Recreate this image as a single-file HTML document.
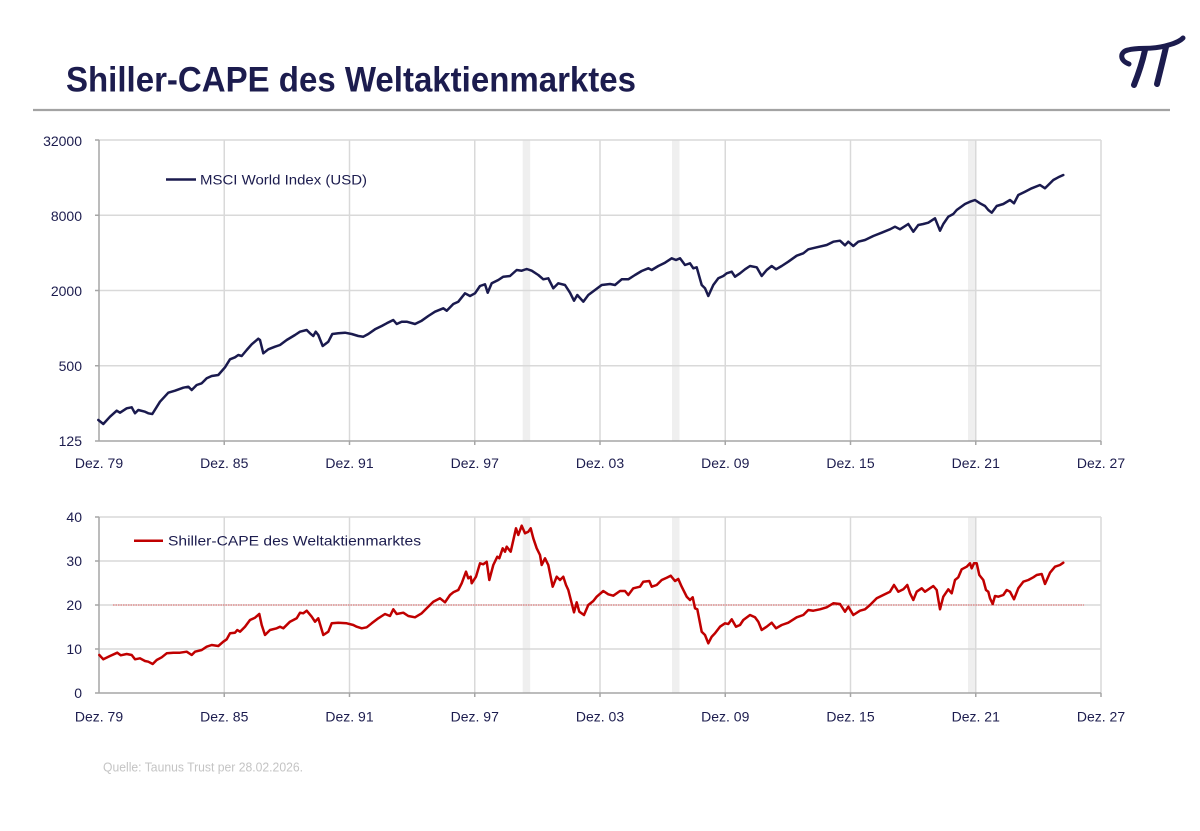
<!DOCTYPE html>
<html>
<head>
<meta charset="utf-8">
<style>
  html, body { margin:0; padding:0; background:#ffffff; }
  svg { display:block; }
  text { font-family: "Liberation Sans", sans-serif; fill:#1c1c4e; }
</style>
</head>
<body>
<svg width="1200" height="831" viewBox="0 0 1200 831" xmlns="http://www.w3.org/2000/svg">
  <rect x="0" y="0" width="1200" height="831" fill="#ffffff"/>

  <!-- Title -->
  <text x="66" y="91.5" font-size="35" font-weight="bold" textLength="570" lengthAdjust="spacingAndGlyphs">Shiller-CAPE des Weltaktienmarktes</text>
  <line x1="33" y1="110" x2="1170" y2="110" stroke="#a3a3a3" stroke-width="2.2"/>

  <!-- Logo -->
  <g fill="none" stroke="#1c1c4e" stroke-linecap="round">
    <path d="M1129,64 C1120,61 1119,52 1128,50 C1140,47 1150,50 1165,46 C1173,44 1179,42 1183,38" stroke-width="5"/>
    <path d="M1145,50 C1142,64 1138,75 1134,85" stroke-width="6"/>
    <path d="M1166,47 C1163,60 1160,72 1157,84" stroke-width="6"/>
  </g>

  <!-- ============ TOP CHART ============ -->
  <rect x="522.7" y="140" width="7.5" height="301" fill="#efefef"/>
  <rect x="672" y="140" width="7.5" height="301" fill="#efefef"/>
  <rect x="968" y="140" width="7.5" height="301" fill="#efefef"/>
  <g stroke="#d9d9d9" stroke-width="1.5">
    <line x1="99" y1="140" x2="1101" y2="140"/>
    <line x1="99" y1="215.25" x2="1101" y2="215.25"/>
    <line x1="99" y1="290.5" x2="1101" y2="290.5"/>
    <line x1="99" y1="365.75" x2="1101" y2="365.75"/>
    <line x1="224.25" y1="140" x2="224.25" y2="441"/>
    <line x1="349.5" y1="140" x2="349.5" y2="441"/>
    <line x1="474.75" y1="140" x2="474.75" y2="441"/>
    <line x1="600" y1="140" x2="600" y2="441"/>
    <line x1="725.25" y1="140" x2="725.25" y2="441"/>
    <line x1="850.5" y1="140" x2="850.5" y2="441"/>
    <line x1="975.75" y1="140" x2="975.75" y2="441"/>
    <line x1="1101" y1="140" x2="1101" y2="441"/>
  </g>
  <g stroke="#a6a6a6" stroke-width="1.5">
    <line x1="99" y1="140" x2="99" y2="441"/>
    <line x1="99" y1="441" x2="1101" y2="441"/>
    <line x1="95" y1="140" x2="99" y2="140"/>
    <line x1="95" y1="215.25" x2="99" y2="215.25"/>
    <line x1="95" y1="290.5" x2="99" y2="290.5"/>
    <line x1="95" y1="365.75" x2="99" y2="365.75"/>
    <line x1="95" y1="441" x2="99" y2="441"/>
    <line x1="224.25" y1="441" x2="224.25" y2="445"/>
    <line x1="349.5" y1="441" x2="349.5" y2="445"/>
    <line x1="474.75" y1="441" x2="474.75" y2="445"/>
    <line x1="600" y1="441" x2="600" y2="445"/>
    <line x1="725.25" y1="441" x2="725.25" y2="445"/>
    <line x1="850.5" y1="441" x2="850.5" y2="445"/>
    <line x1="975.75" y1="441" x2="975.75" y2="445"/>
    <line x1="1101" y1="441" x2="1101" y2="445"/>
  </g>
  <g font-size="14" text-anchor="end">
    <text x="82" y="146">32000</text>
    <text x="82" y="221">8000</text>
    <text x="82" y="296">2000</text>
    <text x="82" y="371">500</text>
    <text x="82" y="446">125</text>
  </g>
  <g font-size="14" text-anchor="middle">
    <text x="99" y="468">Dez. 79</text>
    <text x="224.25" y="468">Dez. 85</text>
    <text x="349.5" y="468">Dez. 91</text>
    <text x="474.75" y="468">Dez. 97</text>
    <text x="600" y="468">Dez. 03</text>
    <text x="725.25" y="468">Dez. 09</text>
    <text x="850.5" y="468">Dez. 15</text>
    <text x="975.75" y="468">Dez. 21</text>
    <text x="1101" y="468">Dez. 27</text>
  </g>
  <line x1="166" y1="179.5" x2="196" y2="179.5" stroke="#1a1a4e" stroke-width="2.5"/>
  <text x="200" y="184.5" font-size="14" textLength="167" lengthAdjust="spacingAndGlyphs">MSCI World Index (USD)</text>
  <polyline fill="none" stroke="#1a1a4e" stroke-width="2.5" stroke-linejoin="round" stroke-linecap="round"
    points="98.3,420 103.3,424 110,416.7 116.7,410.7 120,412.7 126.7,408.3 131.7,407.3 135,413.3 138.3,410 145,411.7 148.3,413.3 152.3,414 160,401.7 168.3,392.7 175,390.7 183.3,387.7 188.3,386.7 191.7,390 196.7,385 201.7,383.3 206.7,378.3 211.7,376 218.3,375 225,367.3 230,359.3 235,357.3 238.3,355 241.7,356 246.7,350 251.7,344.3 258.3,338.7 260,340 263.3,353.3 268.3,349.3 275,346.7 280,345 286.7,340 295,335 300,331.7 306.7,330 310,333.3 313.3,336 315.7,331.7 318.3,335 322.7,346 328.3,341.7 332.3,334 338.3,333.3 345,332.7 351.7,334 358.3,336 363.3,336.7 368.3,334 375,329.3 381.7,326 386.7,323.3 393.3,320 396.7,324 401.7,321.7 406.7,321.7 415,324 421.7,320.7 428.3,316 435,311.7 443.3,308.3 446.7,310.7 453.3,304 458.3,301.7 465,293.3 470,296 475,293.3 480,286 485,284.3 487.7,292.7 491.7,283.3 498.3,280 503.3,276.7 510,276 516.7,270 521.7,270.7 526.7,269 531.7,270.7 538.3,275 543.3,279.3 548.3,278.3 553.3,288.3 558.3,283.3 565,285 570,292.7 574,300.7 577.3,295 583.3,301.7 588.3,295 595,290 601.7,285 610,284 615,285 621.7,279.3 628.3,279.3 635,275 641.7,271 648.3,268.3 651.7,270 658.3,266 665,262.7 671.7,258.3 676,260 680,258.3 685,265 690,263.3 693.3,268.3 696.7,267.3 701.7,285 705,288.3 708.3,296 713.3,285 718.3,278.3 723.3,276 726.7,273.3 731.7,271.7 735,276.7 740,273.3 745,269.3 750,266 756.7,267.3 761.7,276 766.7,270 771.7,266 776,269.3 781.7,266 788.3,261.7 796.7,255.7 803.3,253.3 808.3,249.3 816.7,247.3 826.7,245 833.3,241.7 840,240.7 845,245.3 848.3,241.7 853.3,246 858.3,241.7 865,240 873.3,236 881.7,232.7 890,229.3 895,226.7 900,229.3 908.3,224 913.3,231.7 918.3,225 923.3,224 928.3,222.7 935,218.3 940,230.7 943.3,224 948.3,216.7 953.3,214 956.7,210 965,204 970,201.7 975,200 980,203.3 985,206 988.3,210 991.7,212.7 996.7,206 1003.3,204 1010,200 1014,203.3 1018.3,195 1025,191.7 1031.7,188.3 1040,185 1045,188.3 1053.3,180 1058.3,177.3 1063.3,175"/>

  <!-- ============ BOTTOM CHART ============ -->
  <rect x="522.7" y="517" width="7.5" height="176" fill="#efefef"/>
  <rect x="672" y="517" width="7.5" height="176" fill="#efefef"/>
  <rect x="968" y="517" width="7.5" height="176" fill="#efefef"/>
  <g stroke="#d9d9d9" stroke-width="1.5">
    <line x1="99" y1="517" x2="1101" y2="517"/>
    <line x1="99" y1="561" x2="1101" y2="561"/>
    <line x1="99" y1="605" x2="1101" y2="605"/>
    <line x1="99" y1="649" x2="1101" y2="649"/>
    <line x1="224.25" y1="517" x2="224.25" y2="693"/>
    <line x1="349.5" y1="517" x2="349.5" y2="693"/>
    <line x1="474.75" y1="517" x2="474.75" y2="693"/>
    <line x1="600" y1="517" x2="600" y2="693"/>
    <line x1="725.25" y1="517" x2="725.25" y2="693"/>
    <line x1="850.5" y1="517" x2="850.5" y2="693"/>
    <line x1="975.75" y1="517" x2="975.75" y2="693"/>
    <line x1="1101" y1="517" x2="1101" y2="693"/>
  </g>
  <g stroke="#a6a6a6" stroke-width="1.5">
    <line x1="99" y1="517" x2="99" y2="693"/>
    <line x1="99" y1="693" x2="1101" y2="693"/>
    <line x1="95" y1="517" x2="99" y2="517"/>
    <line x1="95" y1="561" x2="99" y2="561"/>
    <line x1="95" y1="605" x2="99" y2="605"/>
    <line x1="95" y1="649" x2="99" y2="649"/>
    <line x1="95" y1="693" x2="99" y2="693"/>
    <line x1="224.25" y1="693" x2="224.25" y2="697"/>
    <line x1="349.5" y1="693" x2="349.5" y2="697"/>
    <line x1="474.75" y1="693" x2="474.75" y2="697"/>
    <line x1="600" y1="693" x2="600" y2="697"/>
    <line x1="725.25" y1="693" x2="725.25" y2="697"/>
    <line x1="850.5" y1="693" x2="850.5" y2="697"/>
    <line x1="975.75" y1="693" x2="975.75" y2="697"/>
    <line x1="1101" y1="693" x2="1101" y2="697"/>
  </g>
  <g font-size="14" text-anchor="end">
    <text x="82" y="522">40</text>
    <text x="82" y="566">30</text>
    <text x="82" y="610">20</text>
    <text x="82" y="654">10</text>
    <text x="82" y="698">0</text>
  </g>
  <g font-size="14" text-anchor="middle">
    <text x="99" y="721.5">Dez. 79</text>
    <text x="224.25" y="721.5">Dez. 85</text>
    <text x="349.5" y="721.5">Dez. 91</text>
    <text x="474.75" y="721.5">Dez. 97</text>
    <text x="600" y="721.5">Dez. 03</text>
    <text x="725.25" y="721.5">Dez. 09</text>
    <text x="850.5" y="721.5">Dez. 15</text>
    <text x="975.75" y="721.5">Dez. 21</text>
    <text x="1101" y="721.5">Dez. 27</text>
  </g>
  <line x1="134" y1="540.7" x2="163" y2="540.7" stroke="#c00000" stroke-width="2.5"/>
  <text x="168" y="545.7" font-size="14" textLength="253" lengthAdjust="spacingAndGlyphs">Shiller-CAPE des Weltaktienmarktes</text>
  <line x1="113" y1="605" x2="1084" y2="605" stroke="#e06060" stroke-width="1" stroke-dasharray="1.5,1"/>
  <polyline fill="none" stroke="#c00000" stroke-width="2.5" stroke-linejoin="round" stroke-linecap="round"
    points="99.3,655 103.3,659.3 110,656 117.3,652.7 120.7,655.3 126.7,654 131.7,655 135,659.3 140,658.3 145,661 148.3,661.7 152.7,664 156.7,660 161.7,657.3 166.7,653.3 173.3,652.7 180,652.7 186.7,651.7 191.7,655 195,651.7 201.7,650 206.7,646.7 211.7,645 218.3,646 223.3,641.7 226.7,639.3 230,633.3 235,632.7 237.3,630 240,631.7 245,626.7 250,620 255,617.7 259.3,614 261.7,625 265,635 270,630 276.7,628.3 280,626.7 283.3,628.3 290,621.7 296.7,618.3 300,612.7 303.3,613.3 306.7,610.7 311.7,616.7 315,621.7 318.3,618.3 323.3,635 328.3,631.7 331.7,623.3 338.3,622.7 346.7,623.3 353.3,625 356.7,626.7 361.7,628.3 366.7,627.3 371.7,623.3 378.3,618.3 385,614 390,616 393.3,609.3 396.7,614 403.3,612.7 408.3,616 415,617.3 421.7,613.3 426.7,608.3 433.3,601.7 440,598.3 445,602.3 450,595 453.3,592.3 458.3,590 461.7,583.3 466,571.7 468.3,578.3 470.7,576.7 471.7,583.3 476,576.7 480,563.3 483.3,564.3 486.7,561.7 489.3,580 493.3,565 497.3,556.7 499.3,558.3 502.7,548.3 505,551.7 506.7,546.7 510.7,551.7 516,528.3 518.3,535 521.7,525.7 525,533.3 528.3,531.7 530.7,528.3 533.3,538.3 536.7,548.3 540,555 541.7,565 545,558.3 548.3,565 552.7,586.7 556.7,576.7 560,580 563.3,576.7 566,585 568.3,590 571.7,603.3 574,612.3 576.7,602.3 579.3,611.7 584,615 588.3,605 593.3,601 596.7,596.7 603.3,591 608.3,594.3 613.3,595.7 620,591 625,591 628.3,595 633.3,588.3 640,586.7 643.3,581.7 649.3,581 651.7,586.7 656.7,585 661.7,580 666.7,577.7 670.7,575.7 675,581 678.3,579 681.7,586.7 686.7,596.7 690,600 692.7,597.3 695,608.3 697.3,609.3 701.7,631.7 705,635 708.3,643.3 711.7,636.7 715,633.3 720,626.7 725,623.3 728.3,624 731.7,619.3 736,626.7 740,625 743.3,620 750,615 755,617.3 758.3,621.7 761.7,630 766.7,626.7 771.7,622.7 776,628.3 781.7,625 788.3,622.7 796.7,617.3 803.3,615 808.3,610 813.3,610.7 820,609.3 826.7,607.3 833.3,603.3 840,604 845,611.7 848.3,606.7 853.3,615 860,610.7 865,609.3 870,605 876.7,598.3 883.3,595 890,591.7 894,585 898.3,591.7 903.3,589.3 907.3,585 910,593.3 913.3,600 916.7,591.7 921.7,588.3 925,591.7 933.3,586 936.7,590 940,609.3 943.3,596.7 948.3,589.3 951.7,593.3 955,580 958.3,577.3 961.7,569.3 966.7,566.7 970,563.3 971.7,568.3 974,563.3 976.7,563.3 979.3,575 983.3,580 986,590 988.3,591.7 990,598.3 992.7,604 995,596 998.3,596.7 1003.3,595 1006.7,590 1010,591.7 1014,599.3 1018.3,588.3 1023.3,581.7 1028.3,580 1033.3,577.3 1036.7,575 1041.7,574 1045,584 1050,572.7 1055,566.7 1060,565 1063.3,562.7"/>

  <text x="103" y="771.5" font-size="13" style="fill:#c4c4c4" textLength="200" lengthAdjust="spacingAndGlyphs">Quelle: Taunus Trust per 28.02.2026.</text>
</svg>
</body>
</html>
